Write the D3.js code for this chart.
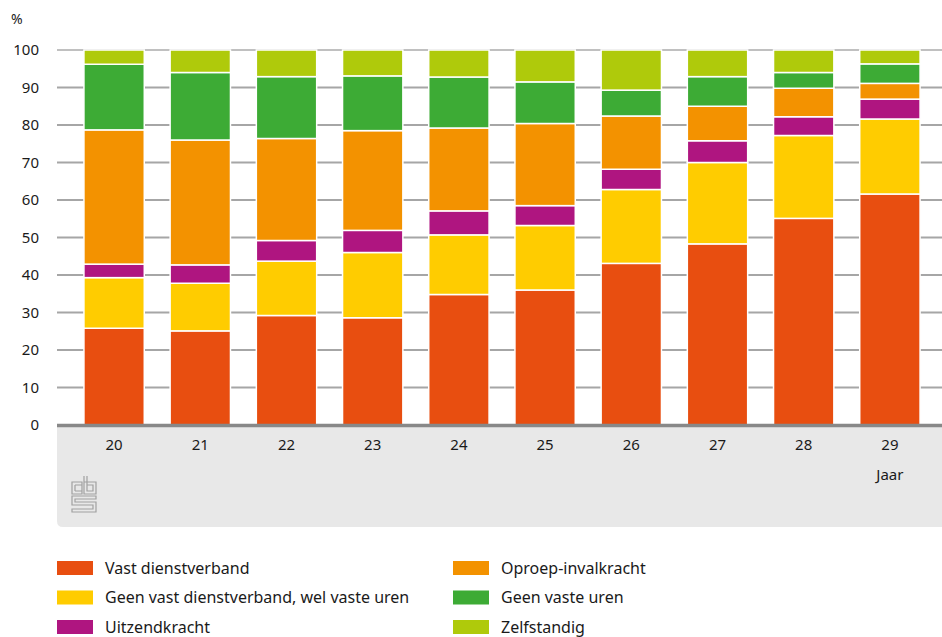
<!DOCTYPE html>
<html>
<head>
<meta charset="utf-8">
<script src="https://cdn.jsdelivr.net/npm/d3@7"></script>
<style>
    body { margin: 0; background: #fff; }
    svg text { font-family: "Noto Sans", "Open Sans", sans-serif; fill: #1a1a1a; }
</style>
</head>
<body>
<div class="chart"></div>
<script>
// categories (jaar)
const years = ["20", "21", "22", "23", "24", "25", "26", "27", "28", "29"];

// series values in %
const vastDienstverband = [25.8, 25.1, 29.2, 28.6, 34.8, 36.0, 43.1, 48.3, 55.1, 61.6];
const geenVastWelUren   = [13.5, 12.7, 14.5, 17.4, 15.9, 17.2, 19.7, 21.7, 22.1, 20.0];
const uitzendkracht     = [3.6, 4.9, 5.5, 5.9, 6.4, 5.3, 5.4, 5.8, 5.0, 5.3];
const oproepInval       = [35.8, 33.3, 27.2, 26.6, 22.1, 21.9, 14.2, 9.2, 7.6, 4.2];
const geenVasteUren     = [17.5, 18.0, 16.5, 14.6, 13.6, 11.1, 6.9, 7.9, 4.2, 5.2];
const zelfstandig       = [3.8, 6.0, 7.1, 6.9, 7.2, 8.5, 10.7, 7.1, 6.0, 3.7];

const seriesNames = ["Vast dienstverband", "Geen vast dienstverband, wel vaste uren", "Uitzendkracht",
    "Oproep-invalkracht", "Geen vaste uren", "Zelfstandig"];
const seriesValues = [vastDienstverband, geenVastWelUren, uitzendkracht, oproepInval, geenVasteUren, zelfstandig];
const seriesColors = ["#e84e10", "#ffcc00", "#af1580", "#f39200", "#3dab35", "#afca0b"];

const yTicks = [0, 10, 20, 30, 40, 50, 60, 70, 80, 90, 100];

const width = 942, height = 637;
const plotLeft = 57, plotRight = 942, plotTop = 50, plotBottom = 425;

// build rows for d3.stack
const rows = years.map((y, i) => {
    const row = { year: y };
    seriesNames.forEach((name, s) => { row[name] = seriesValues[s][i]; });
    return row;
});
const stacked = d3.stack().keys(seriesNames)(rows);

const svg = d3.select(".chart").append("svg")
    .attr("width", width)
    .attr("height", height);

const xScale = d3.scaleBand()
    .domain(years)
    .range([71, 933])
    .paddingInner(0.3)
    .paddingOuter(0.15);

const yScale = d3.scaleLinear()
    .domain([0, 100])
    .range([plotBottom, plotTop]);

// gray panel under the axis
svg.append("path")
    .attr("d", `M${plotLeft},${plotBottom} H${plotRight} V527 H${plotLeft + 6} Q${plotLeft},527 ${plotLeft},521 Z`)
    .attr("fill", "#e8e8e8");

// gridlines
svg.append("g")
    .selectAll("line")
    .data(yTicks.filter(d => d > 0))
    .join("line")
    .attr("x1", plotLeft).attr("x2", plotRight)
    .attr("y1", d => yScale(d)).attr("y2", d => yScale(d))
    .attr("stroke", d => d === 100 ? "#c0c0c0" : "#a6a6a6")
    .attr("stroke-width", 2);

// y tick labels
svg.append("g")
    .selectAll("text")
    .data(yTicks)
    .join("text")
    .attr("x", 39)
    .attr("y", d => yScale(d))
    .attr("dy", "0.35em")
    .attr("text-anchor", "end")
    .style("font-size", "15px")
    .text(d => d);

svg.append("text")
    .attr("x", 11).attr("y", 24)
    .style("font-size", "14px")
    .text("%");

// stacked bars
svg.append("g")
    .selectAll("g")
    .data(stacked)
    .join("g")
    .attr("fill", (d, i) => seriesColors[i])
    .selectAll("rect")
    .data(d => d)
    .join("rect")
    .attr("x", d => xScale(d.data.year))
    .attr("width", xScale.bandwidth())
    .attr("y", d => yScale(d[1]))
    .attr("height", d => yScale(d[0]) - yScale(d[1]))
    .attr("stroke", "#fff")
    .attr("stroke-width", 1.5);

// baseline
svg.append("line")
    .attr("x1", plotLeft).attr("x2", plotRight)
    .attr("y1", plotBottom + 0.5).attr("y2", plotBottom + 0.5)
    .attr("stroke", "#888")
    .attr("stroke-width", 3.5);

// x tick labels
svg.append("g")
    .selectAll("text")
    .data(years)
    .join("text")
    .attr("x", d => xScale(d) + xScale.bandwidth() / 2)
    .attr("y", 450)
    .attr("text-anchor", "middle")
    .style("font-size", "15px")
    .text(d => d);

svg.append("text")
    .attr("x", xScale("29") + xScale.bandwidth() / 2)
    .attr("y", 480)
    .attr("text-anchor", "middle")
    .style("font-size", "15px")
    .text("Jaar");

// cbs logo (rough)
const logo = svg.append("g")
    .attr("transform", "translate(72,476)")
    .attr("fill", "none")
    .attr("stroke", "#a0a0a0")
    .attr("stroke-width", 1.2);
logo.append("path").attr("d", "M0,6 H10 V18 H0 Z M3,9 H10 M3,15 H10 M3,9 V15");
logo.append("path").attr("d", "M12,0 V18 H24 V6 H12 M15,0 V15 H21 V9 H15");
logo.append("path").attr("d", "M0,20 H24 V23 H3 V26 H24 V36 H0 V33 H21 V29 H0 Z");

// legend
const legendItems = seriesNames.map((name, i) => ({
    name: name,
    color: seriesColors[i],
    col: i < 3 ? 0 : 1,
    row: i % 3
}));
const legend = svg.append("g")
    .selectAll("g")
    .data(legendItems)
    .join("g")
    .attr("transform", d => `translate(${d.col === 0 ? 57 : 453},${568 + d.row * 29.5})`);
legend.append("rect")
    .attr("x", 0).attr("y", -7)
    .attr("width", 36).attr("height", 14)
    .attr("fill", d => d.color);
legend.append("text")
    .attr("x", 48).attr("y", 0)
    .attr("dy", "0.35em")
    .style("font-size", "16px")
    .text(d => d.name);
</script>
</body>
</html>
